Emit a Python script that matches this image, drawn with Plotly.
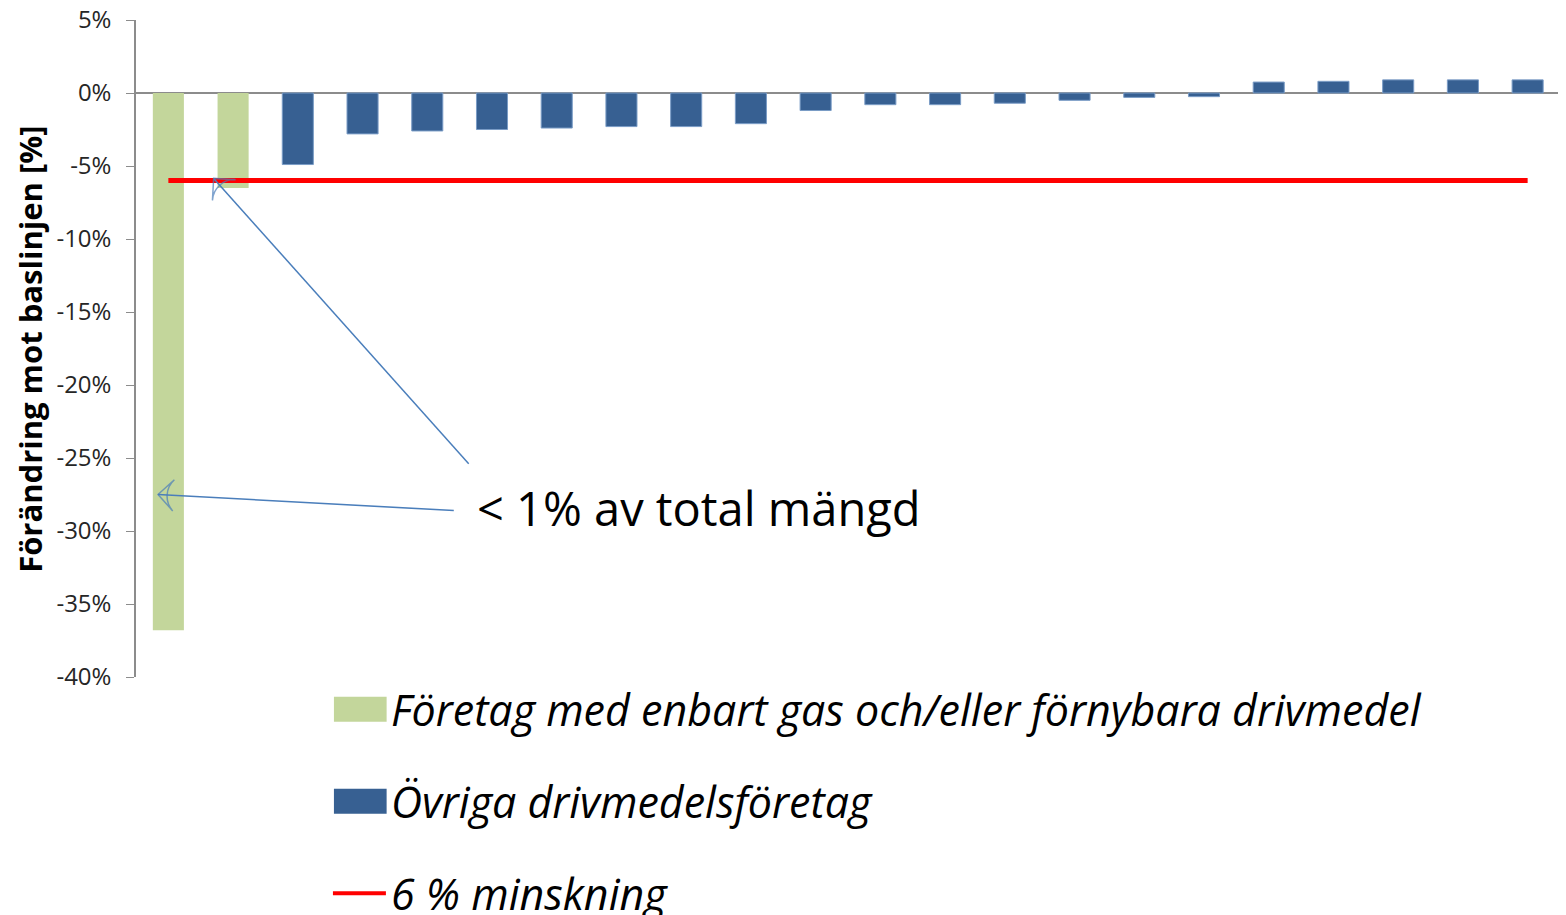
import plotly.graph_objects as go

# company positions along the x axis (no labels shown in the original)
green_x = [1, 2]
blue_x = [3, 4, 5, 6, 7, 8, 9, 10, 11, 12, 13, 14, 15, 16, 17, 18, 19, 20, 21, 22]
all_x = green_x + blue_x

# change vs baseline, percent
green_values = [-36.8, -6.5]
blue_values = [-4.9, -2.8, -2.6, -2.5, -2.4, -2.3, -2.3, -2.1, -1.2, -0.8,
               -0.8, -0.7, -0.5, -0.3, -0.25, 0.75, 0.8, 0.9, 0.9, 0.9]
target_values = [-6] * len(all_x)

y_ticks = [5, 0, -5, -10, -15, -20, -25, -30, -35, -40]
y_tick_labels = ["5%", "0%", "-5%", "-10%", "-15%", "-20%", "-25%", "-30%", "-35%", "-40%"]

legend_names = ["Företag med enbart gas och/eller förnybara drivmedel",
                "Övriga drivmedelsföretag",
                "6 % minskning"]
note_text = "< 1% av total mängd"

GREEN = "#c3d69b"
BLUE = "#376092"
RED = "#ff0000"
ARROW = "#4a7ebb"
FONT = "Open Sans"

fig = go.Figure()

fig.add_bar(x=green_x, y=green_values, name=legend_names[0],
            marker=dict(color=GREEN, line=dict(color=GREEN, width=0)))
fig.add_bar(x=blue_x, y=blue_values, name=legend_names[1],
            marker=dict(color=BLUE, line=dict(color="#7a9cc6", width=1)))
fig.add_scatter(x=all_x, y=target_values, mode="lines", name=legend_names[2],
                line=dict(color=RED, width=5))

# arrows from the note to the two small green companies
arrows = [
    ([5.64, 1.70], [-25.4, -5.85]),
    ([5.41, 0.84], [-28.6, -27.5]),
]
for ax_, ay_ in arrows:
    fig.add_scatter(x=ax_, y=ay_, mode="lines+markers",
                    line=dict(color=ARROW, width=1.5),
                    marker=dict(symbol="arrow-wide-open", angleref="previous",
                                size=[0, 22], color=ARROW,
                                line=dict(color=ARROW, width=1.5)),
                    showlegend=False, hoverinfo="skip")

fig.add_annotation(x=5.74, y=-28.45, xref="x", yref="y", text=note_text,
                   showarrow=False, xanchor="left", yanchor="middle",
                   font=dict(family=FONT, size=47, color="#000000"))

# legend drawn below the plot with large swatches
legend_rows = [-0.049, -0.189, -0.329]
for i, yy in enumerate(legend_rows):
    if i < 2:
        fig.add_shape(type="rect", xref="paper", yref="paper",
                      x0=0.139, x1=0.176, y0=yy - 0.019, y1=yy + 0.019,
                      fillcolor=[GREEN, BLUE][i], line=dict(width=0))
    else:
        fig.add_shape(type="line", xref="paper", yref="paper",
                      x0=0.1383, x1=0.1755, y0=yy, y1=yy,
                      line=dict(color=RED, width=4))
    fig.add_annotation(x=0.178, y=yy, xref="paper", yref="paper",
                       text=f"<i>{legend_names[i]}</i>", showarrow=False,
                       xanchor="left", yanchor="middle",
                       font=dict(family=FONT, size=43, color="#000000"))

fig.add_annotation(x=-0.0744, y=0.498, xref="paper", yref="paper",
                   text="<b>Förändring mot baslinjen [%]</b>", textangle=-90,
                   showarrow=False, xanchor="center", yanchor="middle",
                   font=dict(family=FONT, size=31, color="#000000"))

fig.update_layout(
    width=1558, height=907,
    margin=dict(l=128, r=6, t=12, b=238, autoexpand=False),
    barmode="overlay", bargap=0.52,
    showlegend=False,
    plot_bgcolor="white", paper_bgcolor="white",
    font=dict(family=FONT, color="#262626"),
)
fig.update_xaxes(range=[0.5, 22.5], showticklabels=False, showgrid=False,
                 zeroline=False, showline=False, ticks="", automargin=False)
fig.update_yaxes(range=[-40, 5], tickvals=y_ticks, ticktext=y_tick_labels,
                 showgrid=False, zeroline=True, zerolinecolor="#8c8c8c",
                 zerolinewidth=2, showline=True, linecolor="#8c8c8c", linewidth=1.5,
                 ticks="outside", ticklen=8, tickcolor="#8c8c8c",
                 ticklabelstandoff=10, ticklabeloverflow="allow", automargin=False,
                 tickfont=dict(family=FONT, size=24, color="#262626"))

fig.write_html("out.html")
